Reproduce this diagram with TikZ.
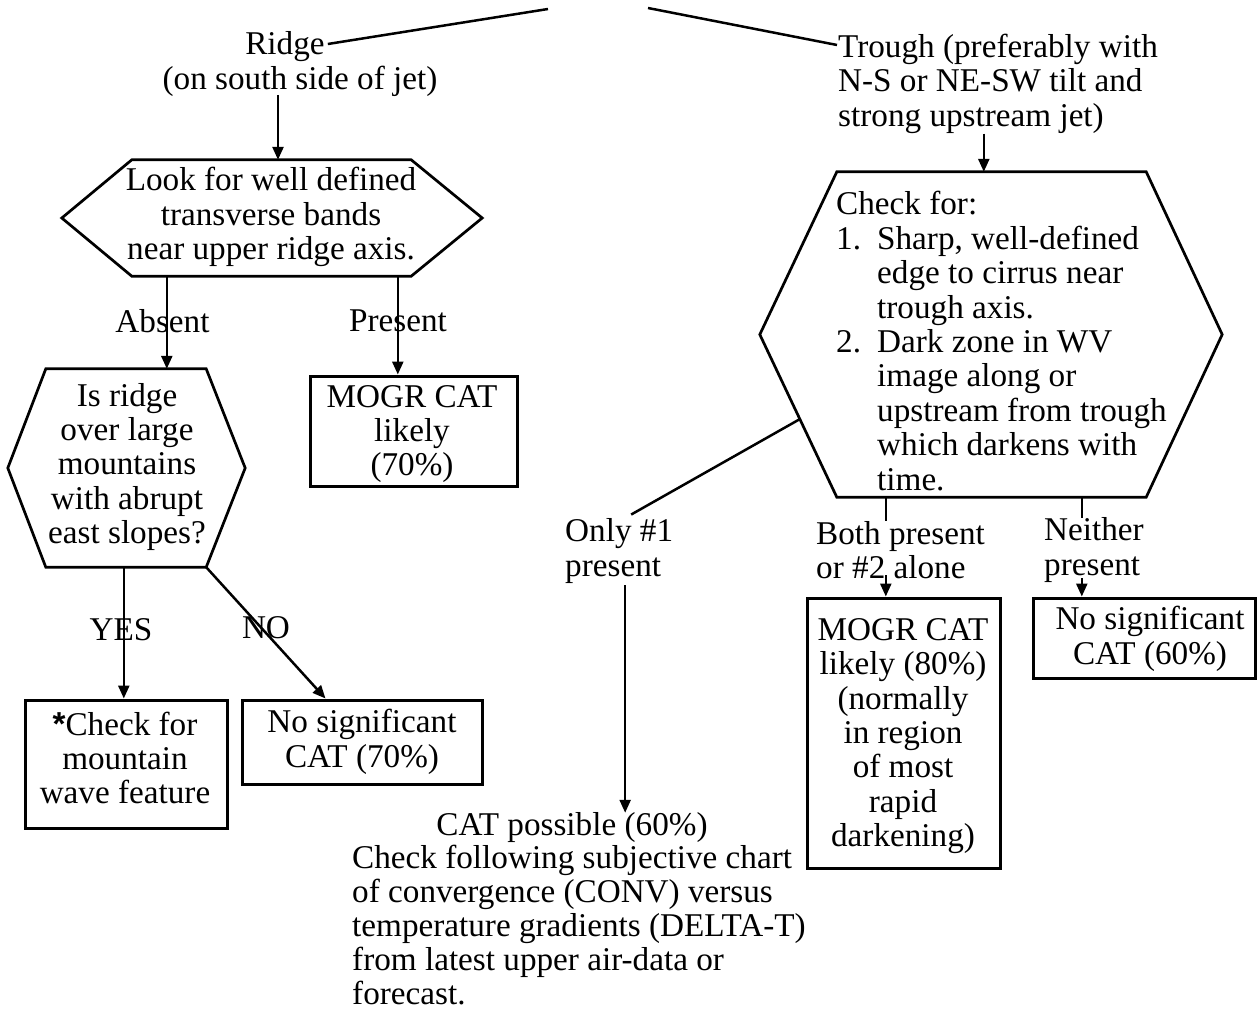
\documentclass[tikz,border=0pt]{standalone}
\usepackage{fontspec}
\setmainfont{Liberation Serif}
\setsansfont{Liberation Sans}
\usetikzlibrary{arrows.meta,calc}
\begin{document}
\begin{tikzpicture}[x=1pt,y=-1pt,
  every node/.style={inner sep=0pt},
  font=\fontsize{33.2}{34.4}\selectfont,
  conn/.style={line width=2.5pt},
  arr/.style={line width=2.5pt,-{Triangle[length=13pt,width=11pt]}},
  shp/.style={line width=2.7pt, line join=miter},
  boxnode/.style={draw, line width=3pt},
  lbl/.style={align=left},
  txt/.style={align=center},
]
\useasboundingbox (0,0) rectangle (1257,1012);

% top
\coordinate (topL) at (548,9);
\coordinate (topR) at (648,8);
\node (ridge) at (285,47) {Ridge};
\node (ridge2) at (300,81.5) {(on south side of jet)};
\node[anchor=west] (trough1) at (838,49) {Trough (preferably with};
\node[lbl,anchor=north west] (trough2) at (838,68.7) {N-S or NE-SW tilt and\\strong upstream jet)};
\draw[conn] (topL) -- ($(ridge.east)+(3,-3)$);
\draw[conn] (topR) -- ($(trough1.west)+(-1,-4)$);

% hexagon 1
\node[minimum width=279pt, minimum height=116pt] (h1) at (271.5,218) {};
\draw[shp] (h1.north west) -- (h1.north east) -- ($(h1.east)+(71,0)$) -- (h1.south east) -- (h1.south west) -- ($(h1.west)+(-70,0)$) -- cycle;
\node[txt] (h1t) at (271,217) {Look for well defined\\transverse bands\\near upper ridge axis.};
\draw[arr] ($(ridge2.south)+(-22,-2)$) -- ($(h1.north)+(6.5,0)$);

% hexagon 2
\node[minimum width=160pt, minimum height=198pt] (h2) at (126,468) {};
\draw[shp] (h2.north west) -- (h2.north east) -- ($(h2.east)+(39,0)$) -- (h2.south east) -- (h2.south west) -- ($(h2.west)+(-38,0)$) -- cycle;
\node[txt] (h2t) at (127,467) {Is ridge\\over large\\mountains\\with abrupt\\east slopes?};

% boxes left
\node[boxnode, minimum width=207pt, minimum height=110pt] (mogr70) at (413.5,431) {};
\node[txt] (mogr70t) at (412,434) {MOGR CAT\\likely\\(70\%)};
\node[boxnode, minimum width=202pt, minimum height=128pt] (checkm) at (126,764) {};
\node[txt] (checkmt) at (125,758) {{\sffamily\bfseries *}Check for\\mountain\\wave feature};
\node[boxnode, minimum width=240pt, minimum height=84pt] (nosig70) at (362,742) {};
\node[txt] (nosig70t) at (362,742) {No significant\\CAT (70\%)};

% labels left
\node (absent) at (162.5,321) {Absent};
\node (present) at (398,321) {Present};
\node (yes) at (121,630) {YES};
\node (no) at (266,628) {NO};

\coordinate (a1) at ($(h1.south west)+(35,0)$);
\draw[arr] (a1) -- (a1 |- h2.north);
\coordinate (p1) at ($(h1.south west)+(266,0)$);
\draw[arr] (p1) -- (p1 |- mogr70.north);
\coordinate (y1) at ($(h2.south west)+(78,0)$);
\draw[arr] (y1) -- (y1 |- checkm.north);
\draw[arr] (h2.south east) -- ($(nosig70.north west)+(85,0)$);

% hexagon 3
\node[minimum width=309pt, minimum height=325pt] (h3) at (991.5,334.5) {};
\coordinate (h3L) at ($(h3.west)+(-77,0)$);
\draw[shp] (h3.north west) -- (h3.north east) -- ($(h3.east)+(76,0)$) -- (h3.south east) -- (h3.south west) -- (h3L) -- cycle;
\node[lbl,anchor=west] (h3t) at (836,341) {Check for:\\
\makebox[41pt][l]{1.}Sharp, well-defined\\
\hspace*{41pt}edge to cirrus near\\
\hspace*{41pt}trough axis.\\
\makebox[41pt][l]{2.}Dark zone in WV\\
\hspace*{41pt}image along or\\
\hspace*{41pt}upstream from trough\\
\hspace*{41pt}which darkens with\\
\hspace*{41pt}time.};
\coordinate (t1) at ($(h3.north west)+(147,0)$);
\draw[arr] (t1 |- trough2.south) -- (t1);

% labels right
\node[lbl,anchor=west] (only) at (565,551) {Only \#1\\present};
\node[lbl,anchor=west] (both) at (816,550) {Both present\\or \#2 alone};
\node[lbl,anchor=west] (neither) at (1044,550) {Neither\\present};

% boxes right
\node[boxnode, minimum width=193pt, minimum height=270pt] (mogr80) at (903.5,733) {};
\node[txt] (mogr80t) at (903,736) {MOGR CAT\\likely (80\%)\\(normally\\in region\\of most\\rapid\\darkening)};
\node[boxnode, minimum width=222pt, minimum height=80pt] (nosig60) at (1144,638) {};
\node[txt] (nosig60t) at (1150,639) {No significant\\CAT (60\%)};

% bottom text
\node (catp) at (572,828) {CAT possible (60\%)};
\node[lbl,anchor=west,font=\fontsize{33.2}{34}\selectfont] (chk) at (352,925) {Check following subjective chart\\of convergence (CONV) versus\\temperature gradients (DELTA-T)\\from latest upper air-data or\\forecast.};

% right connectors
\draw[conn] ($(h3L)!0.52!(h3.south west)$) -- ($(only.north)+(12,-4)$);
\coordinate (o1) at ($(only.south)+(6,2)$);
\draw[arr] (o1) -- (o1 |- catp.north);
\coordinate (b1) at ($(h3.south west)+(49,0)$);
\draw[conn] (b1) -- (b1 |- both.north);
\draw[arr] ($(b1 |- both.south)+(0,-4)$) -- (b1 |- mogr80.north);
\coordinate (n1) at ($(h3.south west)+(245,0)$);
\draw[conn] (n1) -- (n1 |- neither.north);
\draw[arr] ($(n1 |- neither.south)+(0,-4)$) -- (n1 |- nosig60.north);
\end{tikzpicture}
\end{document}
